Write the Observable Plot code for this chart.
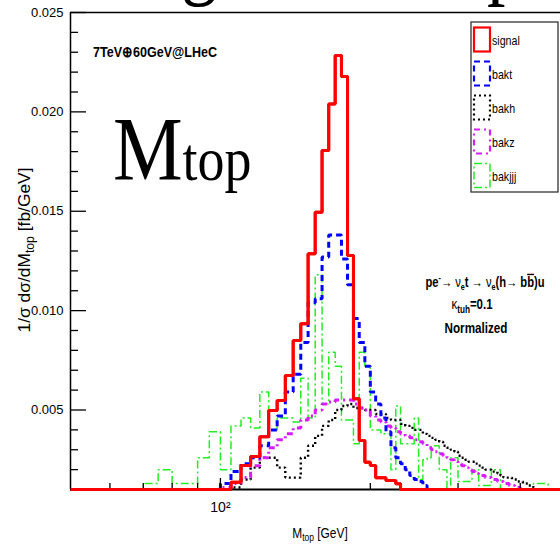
<!DOCTYPE html>
<html><head><meta charset="utf-8">
<script src="https://cdn.jsdelivr.net/npm/d3@7"></script>
<script src="https://cdn.jsdelivr.net/npm/@observablehq/plot@0.6"></script>
<style>body{margin:0;background:#fff;} svg{display:block}</style>
</head><body><div id="chart"></div>
<script>
// bin edges of the histograms (5 GeV bins, 50..500 GeV)
const binEdges = d3.range(50, 505, 5);

const signal = [
  0,0,0,0,0,0,0,0,0,0,
  0,0.00137,0.00221,0.00266,0.00365,0.00497,0.00548,0.00674,0.0085,0.00934,
  0.01286,0.01495,0.01806,0.0204,0.02284,0.02178,0.01277,0.00556,0.00346,0.00237,
  0.00221,0.00159,0.00159,0.00145,0.00145,0.00129,0,0,0,0,
  0,0,0,0,0,0,0,0,0,0,
  0,0,0,0,0,0,0,0,0,0,
  0,0,0,0,0,0,0,0,0,0,
  0,0,0,0,0,0,0,0,0,0,
  0,0,0,0,0,0,0,0,0,0
];
const bakt = [
  0,0,0,0,0,0,0,0,0,0,
  0.0013,0.0019,0.0023,0.0026,0.0032,0.0040,0.0047,0.0059,0.0068,0.0084,
  0.0104,0.0106,0.0127,0.0138,0.0138,0.0126,0.0113,0.0096,0.0084,0.0072,
  0.0059,0.0053,0.0046,0.0039,0.0031,0.0026,0.0023,0.0020,0.0017,0.0015,
  0.0014,0.0012,0,0,0,0,0,0,0,0,
  0,0,0,0,0,0,0,0,0,0,
  0,0,0,0,0,0,0,0,0,0,
  0,0,0,0,0,0,0,0,0,0,
  0,0,0,0,0,0,0,0,0,0
];
const bakh = [
  0,0,0,0,0,0,0,0,0,0,
  0,0.0011,0.0015,0.0021,0.0026,0.0026,0.0021,0.0016,0.0016,0.0026,
  0.0032,0.0037,0.0042,0.0045,0.0050,0.0052,0.0053,0.0051,0.0051,0.0050,
  0.0050,0.0048,0.0048,0.0046,0.0045,0.0045,0.0043,0.0042,0.0041,0.0040,
  0.0040,0.0038,0.0037,0.0036,0.0035,0.0034,0.0032,0.0031,0.0030,0.0029,
  0.0027,0.0026,0.0025,0.0024,0.0024,0.0023,0.0022,0.0021,0.0020,0.0020,
  0.0019,0.0019,0.0018,0.0017,0.0016,0.0016,0.0016,0.0015,0.0015,0.0014,
  0.0014,0.0013,0.0013,0.0012,0.0012,0.0011,0,0,0,0,
  0,0,0,0,0,0,0,0,0,0
];
const bakz = [
  0,0,0,0,0,0,0,0,0,0,
  0.0011,0.0013,0.0016,0.0022,0.0026,0.0031,0.0035,0.0038,0.0041,0.0045,
  0.0047,0.0050,0.0053,0.0054,0.0055,0.0055,0.0055,0.0053,0.0051,0.0050,
  0.0047,0.0045,0.0044,0.0042,0.0041,0.0039,0.0038,0.0037,0.0036,0.0035,
  0.0034,0.0033,0.0031,0.0030,0.0029,0.0028,0.0027,0.0026,0.0025,0.0024,
  0.0023,0.0022,0.0021,0.0020,0.0019,0.0018,0.0017,0.0017,0.0016,0.0016,
  0.0015,0.0015,0.0014,0.0014,0.0013,0.0013,0.0012,0.0012,0.0011,0.0011,
  0,0,0,0,0,0,0,0,0,0,
  0,0,0,0,0,0,0,0,0,0
];
const bakjjj = [
  0,0,0,0,0.0013,0.0020,0.0013,0.0013,0.0026,0.0039,
  0.0020,0.0042,0.0046,0.0041,0.0059,0.0040,0.0046,0.0046,0.0044,0.0066,
  0.0046,0.0118,0.0053,0.0079,0.0072,0.0045,0.0045,0.0033,0.0079,0.0072,
  0.0040,0.0040,0.0038,0.0038,0.0020,0.0052,0.0033,0.0033,0.0033,0.0046,
  0.0015,0.0025,0.0026,0.0032,0.0032,0.0020,0.0020,0.0010,0.0026,0.0026,
  0.0014,0.0014,0.0014,0.0014,0.0020,0.0020,0.0012,0.0012,0.0012,0.0012,
  0.0020,0.0020,0.0020,0,0,0,0,0,0,0,
  0,0,0,0,0,0.0013,0.0013,0.0013,0.0013,0.0013,
  0.0013,0,0,0,0,0,0,0,0,0
];

const seriesNames = ["signal", "bakt", "bakh", "bakz", "bakjjj"];
const seriesValues = {signal, bakt, bakh, bakz, bakjjj};

const yMajorTicks = [0.005, 0.010, 0.015, 0.020, 0.025];
const yMinorTicks = [0.001,0.002,0.003,0.004,0.006,0.007,0.008,0.009,0.011,0.012,0.013,0.014,0.016,0.017,0.018,0.019,0.021,0.022,0.023,0.024];
const xMajorTicks = [100];
const xMinorTicks = [60, 70, 80, 90, 200, 300, 400];

// styles (kept apart from data)
const styles = {
  signal: {stroke: "#ff0000", strokeWidth: 3, dash: null},
  bakt:   {stroke: "#0000ff", strokeWidth: 3, dash: "6,4"},
  bakh:   {stroke: "#000000", strokeWidth: 2.4, dash: "2,3"},
  bakz:   {stroke: "#d81cff", strokeWidth: 3, dash: "6,4,2,4"},
  bakjjj: {stroke: "#22ee22", strokeWidth: 1.5, dash: "8,3,2,3"}
};
const drawOrder = ["bakjjj", "bakh", "bakz", "bakt", "signal"];

function histRows(name) {
  const vals = seriesValues[name];
  const rows = vals.map((v, i) => ({series: name, x: binEdges[i], y: v}));
  rows.push({series: name, x: binEdges[vals.length], y: vals[vals.length - 1]});
  return rows;
}

const histMarks = drawOrder.map(name => Plot.line(histRows(name), {
  x: "x", y: "y", curve: "step-after",
  stroke: styles[name].stroke, strokeWidth: styles[name].strokeWidth,
  strokeDasharray: styles[name].dash, strokeLinecap: "butt", strokeLinejoin: "miter"
}));

const plot = Plot.plot({
  width: 560, height: 546,
  marginLeft: 70, marginRight: -8, marginTop: 12, marginBottom: 57,
  style: {fontFamily: "'Liberation Sans', Arial, sans-serif", fontSize: "13px", color: "#000", background: "#fff"},
  x: {type: "log", domain: [50, 500], axis: null},
  y: {domain: [0.001, 0.025], clamp: true, axis: null},
  marks: [
    ...histMarks,
    // frame lines
    Plot.ruleX([50], {stroke: "#000", strokeWidth: 1.5}),
    Plot.ruleY([0.025], {stroke: "#000", strokeWidth: 1.5}),
    // y axis: labels + inward ticks
    Plot.axisY(yMajorTicks, {tickSize: 0, tickPadding: 7, tickFormat: d3.format(".3f"), label: null, fontSize: 13}),
    Plot.axisY(yMajorTicks, {tickSize: 16, dx: 16, fill: "none", label: null, strokeWidth: 1.3}),
    Plot.axisY(yMinorTicks, {tickSize: 8, dx: 8, fill: "none", label: null, strokeWidth: 1.3}),
    // x axis: inward ticks + label
    Plot.axisX(xMinorTicks, {tickSize: 6, dy: -6, fill: "none", label: null, strokeWidth: 1.3}),
    Plot.axisX(xMajorTicks, {tickSize: 11, dy: -11, fill: "none", label: null, strokeWidth: 1.3}),
    Plot.axisX(xMajorTicks, {tickSize: 0, tickPadding: 13, tickFormat: () => "10²", label: null, fontSize: 14}),
    Plot.ruleY([0.001], {stroke: "#000", strokeWidth: 2}),
    // redraw signal on top of the bottom axis line
    Plot.line(histRows("signal"), {x: "x", y: "y", curve: "step-after", stroke: styles.signal.stroke, strokeWidth: styles.signal.strokeWidth, strokeLinecap: "butt", strokeLinejoin: "miter"})
  ]
});
document.getElementById("chart").appendChild(plot);

const svg = d3.select(plot);
const SANS = "'Liberation Sans', Arial, sans-serif";
const SERIF = "'Liberation Serif', 'Times New Roman', serif";

function addText(x, y, opts) {
  const t = svg.append("text").attr("x", x).attr("y", y)
    .attr("font-family", opts.family || SANS)
    .attr("font-size", opts.size || 13)
    .attr("font-weight", opts.weight || "normal")
    .attr("text-anchor", opts.anchor || "start")
    .attr("fill", "#000");
  if (opts.length) t.attr("textLength", opts.length).attr("lengthAdjust", "spacingAndGlyphs");
  if (opts.transform) t.attr("transform", opts.transform);
  return t;
}
function span(t, str, o = {}) {
  const s = t.append("tspan").text(str);
  if (o.size) s.attr("font-size", o.size);
  if (o.weight) s.attr("font-weight", o.weight);
  if (o.dy) s.attr("dy", o.dy);
  if (o.deco) s.attr("text-decoration", o.deco);
  return s;
}
const sq = (x, y, s) => `translate(${x},${y}) scale(${s},1)`;

// cropped fragments of a large heading above the chart
addText(0, 0, {family: SERIF, size: 90, transform: sq(181, -12, 0.82)}).text("g");
addText(0, 0, {family: SERIF, size: 90, transform: sq(487, -12, 0.82)}).text("p");

// big "Mtop" title
{
  const t = addText(0, 0, {family: SERIF, size: 90, transform: sq(113, 180, 0.87)});
  span(t, "M");
  span(t, "top", {size: 62});
}

// collider label
addText(93, 57, {size: 15, weight: "bold", length: 124}).text("7TeV\u229560GeV@LHeC");

// process annotation
{
  const t = addText(0, 0, {size: 14, weight: "bold", anchor: "middle", transform: sq(485, 287, 0.8)});
  span(t, "pe");
  span(t, "-", {size: 9, dy: -6});
  span(t, "\u2192 ", {weight: "normal", dy: 6});
  span(t, "\u03bd", {weight: "normal"});
  span(t, "e", {size: 9, dy: 3});
  span(t, "t ", {dy: -3});
  span(t, "\u2192 ", {weight: "normal"});
  span(t, "\u03bd", {weight: "normal"});
  span(t, "e", {size: 9, dy: 3});
  span(t, "(h", {dy: -3});
  span(t, "\u2192 ", {weight: "normal"});
  span(t, "b");
  span(t, "b", {deco: "overline"});
  span(t, ")u");
}
{
  const t = addText(0, 0, {size: 14, weight: "bold", anchor: "middle", transform: sq(472, 309, 0.82)});
  span(t, "\u03ba", {weight: "normal"});
  span(t, "tuh", {size: 10, dy: 4});
  span(t, "=0.1", {dy: -4});
}
addText(476, 333, {size: 14, weight: "bold", anchor: "middle", length: 63}).text("Normalized");

// axis titles
{
  const t = addText(0, 0, {size: 17, anchor: "middle", length: 165, transform: "translate(30,250) rotate(-90)"});
  span(t, "1/\u03c3 d\u03c3/dM");
  span(t, "top", {size: 12, dy: 4});
  span(t, " [fb/GeV]", {dy: -4});
}
{
  const t = addText(0, 0, {size: 14, anchor: "middle", transform: sq(320, 538, 0.85)});
  span(t, "M");
  span(t, "top", {size: 10, dy: 3});
  span(t, " [GeV]", {dy: -3});
}

// legend
{
  const g = svg.append("g");
  g.append("rect").attr("x", 471).attr("y", 22).attr("width", 87).attr("height", 170)
    .attr("fill", "#fff").attr("stroke", "#333").attr("stroke-width", 1.3);
  seriesNames.forEach((name, i) => {
    const cy = 39.5 + i * 34;
    const st = styles[name];
    g.append("rect").attr("x", 474).attr("y", cy - 12).attr("width", 16).attr("height", 24)
      .attr("fill", "none").attr("stroke", st.stroke)
      .attr("stroke-width", Math.min(st.strokeWidth, 2.2))
      .attr("stroke-dasharray", st.dash);
    g.append("text").attr("x", 0).attr("y", 0)
      .attr("font-family", SANS).attr("font-size", 13).attr("fill", "#000")
      .attr("text-anchor", "start")
      .attr("transform", sq(492, cy + 5, 0.82))
      .text(name);
  });
}
</script>
</body></html>
